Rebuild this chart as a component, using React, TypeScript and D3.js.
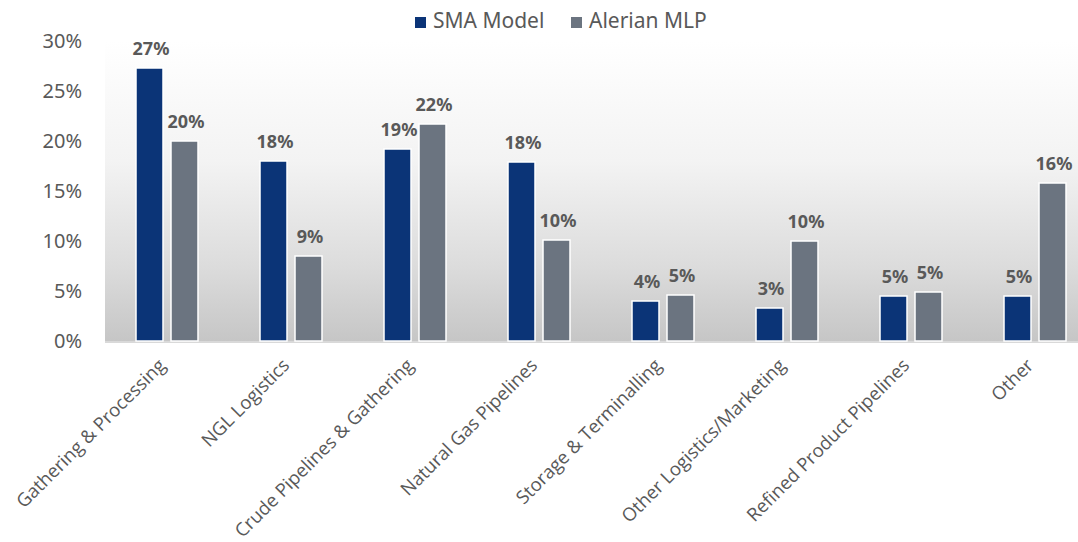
import React from "react";
import * as d3 from "d3";

const categories = [
  "Gathering & Processing",
  "NGL Logistics",
  "Crude Pipelines & Gathering",
  "Natural Gas Pipelines",
  "Storage & Terminalling",
  "Other Logistics/Marketing",
  "Refined Product Pipelines",
  "Other",
];
const smaModel = [27.3, 18.0, 19.2, 17.9, 4.0, 3.3, 4.5, 4.5];
const alerianMLP = [20.0, 8.5, 21.7, 10.1, 4.6, 10.0, 4.9, 15.8];
const smaLabels = ["27%", "18%", "19%", "18%", "4%", "3%", "5%", "5%"];
const mlpLabels = ["20%", "9%", "22%", "10%", "5%", "10%", "5%", "16%"];
const yTicks = [0, 5, 10, 15, 20, 25, 30];
const seriesNames = ["SMA Model", "Alerian MLP"];

const W = 1078;
const H = 542;
const left = 105;
const right = 1097;
const top = 41;
const bottom = 341;
const NAVY = "#0b3477";
const GRAY = "#6b7480";
const TEXT = "#595959";

export default function App() {
  const x = d3.scaleBand<string>().domain(categories).range([left, right]);
  const y = d3.scaleLinear().domain([0, 30]).range([bottom, top]);
  const barW = 27;
  const gap = 8;
  const series = [
    { name: seriesNames[0], values: smaModel, labels: smaLabels, color: NAVY, off: -gap / 2 - barW },
    { name: seriesNames[1], values: alerianMLP, labels: mlpLabels, color: GRAY, off: gap / 2 },
  ];
  return (
    <svg width={W} height={H} style={{ position: "absolute", left: 0, top: 0, background: "#fff" }}>
      <defs>
        <linearGradient id="bg" x1="0" y1="0" x2="0" y2="1">
          <stop offset="0" stopColor="#ffffff" />
          <stop offset="0.4" stopColor="#f3f3f3" />
          <stop offset="0.75" stopColor="#dcdcdc" />
          <stop offset="1" stopColor="#c6c6c6" />
        </linearGradient>
      </defs>
      <rect x={left} y={top} width={right - left} height={bottom - top} fill="url(#bg)" />
      <line x1={left} x2={right} y1={bottom + 1} y2={bottom + 1} stroke="#d9d9d9" strokeWidth={2} />
      {yTicks.map((t) => (
        <text key={t} x={82} y={y(t)} dy="0.36em" textAnchor="end" fontFamily="'Noto Sans', sans-serif" fontSize={20} fill={TEXT}>
          {t}%
        </text>
      ))}
      {series.map((s) =>
        categories.map((c, i) => {
          const cx = (x(c) as number) + x.bandwidth() / 2;
          const bx = cx + s.off;
          return (
            <g key={s.name + c}>
              <rect x={bx} y={y(s.values[i])} width={barW} height={bottom - y(s.values[i])} fill={s.color} stroke="#fff" strokeWidth={1.5} />
              <text x={bx + barW / 2 + 1.5} y={y(s.values[i]) - 13} textAnchor="middle" fontFamily="'Noto Sans', sans-serif" fontWeight="bold" fontSize={18} fill={TEXT}>
                {s.labels[i]}
              </text>
            </g>
          );
        })
      )}
      {categories.map((c) => {
        const cx = (x(c) as number) + x.bandwidth() / 2;
        return (
          <text key={c} transform={`translate(${cx - 5},${362}) rotate(-45)`} textAnchor="end" dy="0.35em" fontFamily="'Open Sans', sans-serif" fontSize={18.5} fill={TEXT}>
            {c}
          </text>
        );
      })}
      <g fontFamily="'Noto Sans', sans-serif" fontSize={21} fill={TEXT}>
        <rect x={415} y={17} width={11} height={11} fill={NAVY} />
        <text x={433} y={28}>{seriesNames[0]}</text>
        <rect x={571} y={17} width={11} height={11} fill={GRAY} />
        <text x={589} y={28}>{seriesNames[1]}</text>
      </g>
    </svg>
  );
}
